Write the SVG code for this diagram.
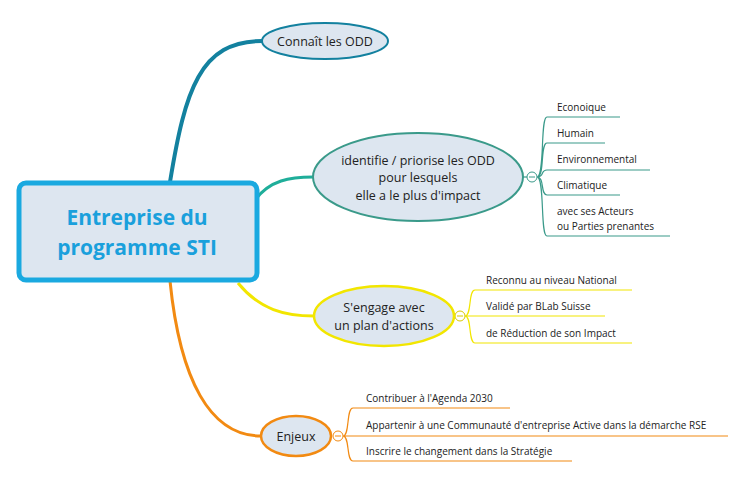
<svg xmlns="http://www.w3.org/2000/svg" width="744" height="477" viewBox="0 0 744 477">
<style>
text{font-family:"Open Sans","DejaVu Sans",sans-serif;fill:#222}
.s{font-size:10px}
.n{font-size:12.5px;text-anchor:middle}
.c{fill:none;stroke-width:2}
</style>
<rect width="744" height="477" fill="#fff"/>
<g id="connectors" fill="none">
<path d="M170 182 C185 90 200 41 262 41" stroke="#13819f" stroke-width="4"/>
<path d="M255 200 C270 180 290 177 313 177" stroke="#1fae9a" stroke-width="3"/>
<path d="M238 283 C260 310 285 316 314 316" stroke="#f2e600" stroke-width="3"/>
<path d="M170 281 C180 380 210 436 261 436" stroke="#f28a12" stroke-width="3"/>
<g stroke="#3a9a8a" stroke-width="1.2">
<path d="M523 177 H527"/><path d="M537 177 C545 177 540 117 547 117 H620 M537 177 C545 177 540 143 547 143 H605 M537 177 C545 177 540 170 547 170 H650 M537 177 C545 177 540 195 547 195 H620 M537 177 C545 177 540 236 547 236 H670"/>
</g>
<g stroke="#f2e600" stroke-width="1.2">
<path d="M454 316 H455"/><path d="M465 316 C472 316 468 290 475 290 H632 M465 316 H605 M465 316 C472 316 468 343 475 343 H632"/>
</g>
<g stroke="#f28a12" stroke-width="1.2">
<path d="M343 436 C350 436 346 408 353 408 H510 M343 436 H728 M343 436 C350 436 346 461 353 461 H572"/>
</g>
<circle cx="532" cy="177" r="5" fill="#fff" stroke="#3a9a8a"/><path d="M529 177h6" stroke="#3a9a8a"/>
<circle cx="460" cy="316" r="5" fill="#fff" stroke="#d8c800"/><path d="M457 316h6" stroke="#d8c800"/>
<circle cx="338" cy="436" r="5" fill="#fff" stroke="#f28a12"/><path d="M335 436h6" stroke="#f28a12"/>
</g>
<g id="central"><rect x="19" y="183" width="238" height="97" rx="7" fill="#dde6f0" stroke="#1aa9e0" stroke-width="5"/>
<text x="137" y="225" text-anchor="middle" font-size="21" font-weight="bold" style="fill:#1aa0dc">Entreprise du</text>
<text x="137" y="255" text-anchor="middle" font-size="21" font-weight="bold" style="fill:#1aa0dc">programme STI</text></g>
<g id="connait"><ellipse cx="325" cy="41" rx="63" ry="18" fill="#dde6f0" stroke="#13819f" stroke-width="2"/><text class="n" x="325" y="46">Connaît les ODD</text></g>
<g id="identifie"><ellipse cx="418" cy="177" rx="105" ry="44" fill="#dde6f0" stroke="#3a9a8a" stroke-width="2"/>
<text class="n" x="418" y="165">identifie / priorise les ODD</text><text class="n" x="418" y="182">pour lesquels</text><text class="n" x="418" y="200">elle a le plus d'impact</text></g>
<g id="engage"><ellipse cx="384" cy="316" rx="70" ry="30" fill="#dde6f0" stroke="#f2e600" stroke-width="2.5"/>
<text class="n" x="384" y="312">S'engage avec</text><text class="n" x="384" y="330">un plan d'actions</text></g>
<g id="enjeux"><ellipse cx="296" cy="436" rx="35" ry="20" fill="#dde6f0" stroke="#f28a12" stroke-width="2.5"/><text class="n" x="296" y="441">Enjeux</text></g>
<g id="labels">
<text class="s" x="557" y="111">Econoique</text>
<text class="s" x="557" y="137">Humain</text>
<text class="s" x="557" y="163">Environnemental</text>
<text class="s" x="557" y="189">Climatique</text>
<text class="s" x="557" y="215">avec ses Acteurs</text>
<text class="s" x="557" y="230">ou Parties prenantes</text>
<text class="s" x="486" y="284">Reconnu au niveau National</text>
<text class="s" x="486" y="310">Validé par BLab Suisse</text>
<text class="s" x="486" y="337">de Réduction de son Impact</text>
<text class="s" x="366" y="402">Contribuer à l'Agenda 2030</text>
<text class="s" x="366" y="429">Appartenir à une Communauté d'entreprise Active dans la démarche RSE</text>
<text class="s" x="366" y="455">Inscrire le changement dans la Stratégie</text>
</g>
</svg>
